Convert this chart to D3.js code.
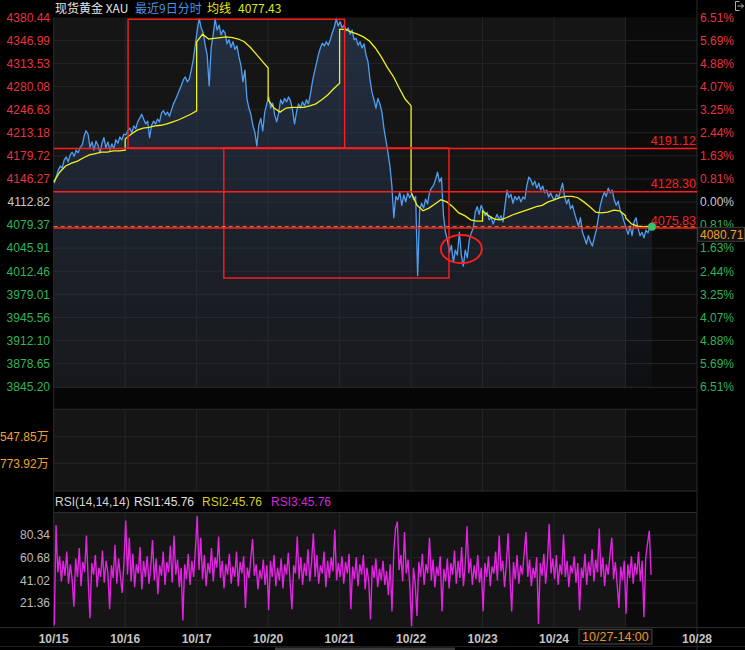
<!DOCTYPE html>
<html><head><meta charset="utf-8">
<script src="https://cdn.jsdelivr.net/npm/d3@7/dist/d3.min.js"></script>
<style>
html,body{margin:0;padding:0;background:#000;overflow:hidden;}
svg{display:block;}
</style></head><body>
<svg id="chart" width="745" height="650"></svg>
<script>
// ---------------- data ----------------
const dayLabels = ["10/15","10/16","10/17","10/20","10/21","10/22","10/23","10/24","10/27","10/28"];
const priceTicks = [4380.44,4346.99,4313.53,4280.08,4246.63,4213.18,4179.72,4146.27,4112.82,4079.37,4045.91,4012.46,3979.01,3945.56,3912.10,3878.65,3845.20];
const pctTicks = ["6.51%","5.69%","4.88%","4.07%","3.25%","2.44%","1.63%","0.81%","0.00%","0.81%","1.63%","2.44%","3.25%","4.07%","4.88%","5.69%","6.51%"];
const basePrice = 4112.82;
const volTicks = [547.85, 773.92];
const volTickLabels = ["547.85万","773.92万"];
const rsiTicks = [80.34, 60.68, 41.02, 21.36];
const PRICE_PER_DAY = 36, AVG_PER_DAY = 13, RSI_PER_DAY = 40;

// minute price, 36 samples per day (last day partial)
const price = [
4140,4150,4159,4165,4162,4174,4178,4171,4181,4185,4179,4188,4184,4192,4195,4208,4216,4211,4192,4200,4188,4201,4195,4184,4198,4206,4191,4200,4188,4197,4190,4203,4198,4207,4203,4211,
4210,4216,4220,4213,4223,4219,4229,4234,4240,4233,4226,4230,4206,4224,4230,4226,4233,4229,4242,4245,4239,4243,4237,4246,4255,4261,4268,4275,4282,4290,4294,4287,4291,4304,4319,4340,
4362,4378,4365,4358,4340,4326,4281,4336,4355,4378,4362,4369,4355,4362,4358,4342,4348,4337,4345,4334,4339,4323,4311,4287,4304,4263,4249,4240,4224,4214,4194,4224,4234,4216,4243,4255,
4265,4249,4256,4239,4229,4242,4261,4255,4263,4258,4265,4259,4246,4226,4243,4255,4249,4258,4252,4261,4255,4269,4287,4301,4313,4326,4336,4343,4339,4345,4340,4348,4358,4366,4378,4368,
4374,4365,4369,4361,4365,4356,4362,4348,4350,4340,4345,4336,4342,4326,4316,4290,4272,4261,4249,4263,4255,4243,4220,4203,4185,4166,4137,4090,4121,4116,4127,4108,4123,4113,4126,4119,
4124,4116,4121,4006,4101,4111,4104,4117,4110,4127,4133,4137,4145,4156,4142,4148,4094,4069,4058,4040,4050,4026,4043,4036,4069,4036,4020,4043,4032,4058,4068,4075,4098,4106,4095,4108,
4101,4093,4098,4087,4091,4081,4088,4095,4087,4093,4084,4108,4130,4119,4124,4111,4121,4116,4121,4113,4120,4117,4137,4149,4145,4137,4143,4133,4140,4130,4136,4126,4130,4120,4126,4119,
4116,4124,4119,4130,4140,4121,4110,4117,4103,4108,4097,4087,4078,4090,4069,4061,4052,4064,4055,4049,4061,4072,4090,4108,4119,4127,4121,4133,4126,4130,4116,4108,4114,4101,4094,4084,
4075,4066,4078,4064,4084,4090,4075,4064,4069,4061,4072,4068,4077,4076.9
];

// daily average line (均线), 13 samples per day
const avgLine = [
4142,4156,4165,4169,4172,4177,4181,4183,4185,4185,4187,4187,4188,
4204,4211,4217,4220,4221,4223,4224,4226,4229,4232,4236,4240,4245,
4345,4356,4349,4350,4351,4352,4351,4349,4345,4337,4327,4317,4307,
4261,4249,4243,4249,4250,4250,4250,4252,4255,4261,4268,4277,4285,
4363,4363,4359,4356,4352,4346,4336,4323,4308,4295,4278,4262,4252,
4127,4108,4100,4104,4110,4116,4113,4106,4097,4093,4087,4085,4085,
4100,4093,4088,4087,4090,4094,4097,4100,4103,4106,4108,4113,4116,
4116,4119,4121,4121,4119,4113,4106,4098,4097,4098,4101,4100,4093,
4090,4081,4078,4077,4077.43
];

// RSI(14), 40 samples per day
const rsi = [
2,89,48,62,40,58,45,66,38,55,42,18,60,44,69,36,57,48,80,41,8,56,46,63,35,52,44,67,39,58,48,16,54,43,72,38,60,45,30,56,
93,46,78,40,64,35,55,47,70,33,58,44,62,38,52,76,41,60,29,54,45,66,37,57,48,71,39,80,46,59,35,52,6,55,42,64,37,58,44,68,
97,50,78,42,63,36,56,47,69,40,61,52,79,43,58,34,55,46,64,38,53,44,66,36,57,47,62,17,52,43,60,77,45,55,33,50,42,59,37,54,
15,58,44,63,36,52,41,60,34,55,46,65,39,16,54,47,79,42,61,37,56,45,68,40,57,82,44,63,38,54,47,66,35,58,43,61,49,85,41,56,
44,62,38,57,47,64,16,53,42,61,36,55,46,63,33,52,40,7,54,43,60,35,51,41,58,37,49,28,55,14,66,86,92,50,63,40,83,47,59,36,
1,52,38,10,57,44,64,37,55,47,78,41,59,35,53,45,62,14,51,40,60,34,56,46,67,38,58,43,70,36,55,88,47,60,37,54,42,63,39,52,
14,56,44,62,36,53,47,66,41,80,49,58,35,55,82,45,14,57,42,63,38,54,46,65,83,44,59,36,52,43,61,3,56,45,64,38,58,90,47,60,
42,63,37,55,46,81,44,58,35,54,47,62,39,56,15,52,43,64,37,57,45,68,40,59,48,86,44,61,36,55,46,63,78,42,57,38,17,53,41,58,
12,55,43,62,38,56,46,66,40,58,9,60,73,84,45.76
];

// drawn annotations (day-position / price)
const levels = [4191.12, 4128.30, 4075.83];
const boxes = [
  {d0: 1.04, d1: 4.07, p0: 4191.12, p1: 4377.6},
  {d0: 2.38, d1: 5.53, p0: 4002.7, p1: 4191.12}
];
const ring = {d: 5.703, p: 4044.7, rd: 0.287, rp: 20.3};
const lastPrice = 4076.9;
const cursorPriceLabel = "4080.71";
const cursorTimeLabel = "10/27-14:00";
const headerParts = [
  {t: "现货黄金 XAU", c: "#e6e6e6", x: 55},
  {t: "最近9日分时", c: "#4a94e6", x: 135},
  {t: "均线", c: "#e8e81c", x: 207},
  {t: "4077.43", c: "#d8e81c", x: 238}
];
const rsiHeader = [
  {t: "RSI(14,14,14)", c: "#d4d4d4", x: 55},
  {t: "RSI1:45.76", c: "#e0e0e0", x: 134},
  {t: "RSI2:45.76", c: "#d8cc22", x: 202},
  {t: "RSI3:45.76", c: "#d826d8", x: 271}
];

// ---------------- layout ----------------
const svg = d3.select("#chart");
const FONT = "'Liberation Sans', Arial, sans-serif";
const CJK = "'Noto Sans CJK SC', 'Noto Sans', sans-serif";
const X0 = 53.7, X1 = 697;
const MAIN = [17.3, 386.7], BAND = [387.3, 409.3], VOL = [409.3, 491], RSIP = [512.5, 627.5];

const x = d3.scaleLinear().domain([0, 9]).range([X0, X1]);
const yP = d3.scaleLinear().domain([3845.20, 4380.44]).range([MAIN[1], MAIN[0]]);
const yV = d3.scaleLinear().domain([547.85, 773.92]).range([436.7, 463.3]);
const yR = d3.scaleLinear().domain([0, 100]).range([RSIP[1], RSIP[0]]);
const XD = x(8);

svg.append("rect").attr("width", 745).attr("height", 650).attr("fill", "#000");

function panelBg(r) {
  svg.append("rect").attr("x", X0).attr("y", r[0]).attr("width", XD - X0).attr("height", r[1] - r[0]).attr("fill", "#151515");
  svg.append("rect").attr("x", XD).attr("y", r[0]).attr("width", X1 - XD).attr("height", r[1] - r[0]).attr("fill", "#0b0b0b");
  for (let d = 1; d <= 8; d++) {
    svg.append("line").attr("x1", x(d)).attr("x2", x(d)).attr("y1", r[0]).attr("y2", r[1])
      .attr("stroke", "#252525").attr("stroke-width", 1);
  }
}
panelBg([MAIN[0], 387.3]);
panelBg(VOL);
panelBg(RSIP);
svg.append("rect").attr("x", X0).attr("y", BAND[0]).attr("width", X1 - X0).attr("height", BAND[1] - BAND[0]).attr("fill", "#060606");

// horizontal grids
priceTicks.slice(1, -1).forEach(t => {
  svg.append("line").attr("x1", X0).attr("x2", X1).attr("y1", yP(t)).attr("y2", yP(t)).attr("stroke", "#252525");
});
volTicks.forEach(t => {
  svg.append("line").attr("x1", X0).attr("x2", X1).attr("y1", yV(t)).attr("y2", yV(t)).attr("stroke", "#252525");
});
rsiTicks.forEach(t => {
  svg.append("line").attr("x1", X0).attr("x2", X1).attr("y1", yR(t)).attr("y2", yR(t)).attr("stroke", "#252525");
});

// frames
const frameC = "#2c2c2c";
[387.3, 409.3, 491, 512.5].forEach(y => svg.append("line").attr("x1", X0).attr("x2", X1).attr("y1", y).attr("y2", y).attr("stroke", frameC));
svg.append("line").attr("x1", 0).attr("x2", 745).attr("y1", 627.5).attr("y2", 627.5).attr("stroke", frameC);
svg.append("line").attr("x1", 0).attr("x2", 745).attr("y1", 646.5).attr("y2", 646.5).attr("stroke", "#1e1e1e");
svg.append("line").attr("x1", X0).attr("x2", X0).attr("y1", MAIN[0]).attr("y2", 627.5).attr("stroke", frameC);
svg.append("line").attr("x1", X1).attr("x2", X1).attr("y1", 0).attr("y2", 650).attr("stroke", frameC);

// ---------------- main price ----------------
const defs = svg.append("defs");
const grad = defs.append("linearGradient").attr("id", "areaGrad").attr("gradientUnits", "userSpaceOnUse")
  .attr("x1", 0).attr("x2", 0).attr("y1", MAIN[0]).attr("y2", MAIN[1]);
grad.append("stop").attr("offset", "0%").attr("stop-color", "#2c4060").attr("stop-opacity", 0.6);
grad.append("stop").attr("offset", "100%").attr("stop-color", "#2c4060").attr("stop-opacity", 0.08);

const pPos = (k) => Math.floor(k / PRICE_PER_DAY) + ((k % PRICE_PER_DAY) + 0.3) / PRICE_PER_DAY;
const aPos = (k) => Math.floor(k / AVG_PER_DAY) + (k % AVG_PER_DAY) / (AVG_PER_DAY - 1);
const rPos = (k) => Math.floor(k / RSI_PER_DAY) + ((k % RSI_PER_DAY) + 0.3) / RSI_PER_DAY;

svg.append("path").datum(price)
  .attr("d", d3.area().x((d, i) => x(pPos(i))).y0(MAIN[1]).y1(d => yP(d)))
  .attr("fill", "url(#areaGrad)");

svg.append("path").datum(price)
  .attr("d", d3.line().x((d, i) => x(pPos(i))).y(d => yP(d)))
  .attr("fill", "none").attr("stroke", "#4f9ff2").attr("stroke-width", 1.3).attr("stroke-linejoin", "round");

svg.append("path").datum(avgLine)
  .attr("d", d3.line().x((d, i) => x(aPos(i))).y(d => yP(d)))
  .attr("fill", "none").attr("stroke", "#f0f01c").attr("stroke-width", 1.3);

// annotations
const RED = "#ff1e1e";
boxes.forEach(b => {
  svg.append("rect").attr("x", x(b.d0)).attr("y", yP(b.p1)).attr("width", x(b.d1) - x(b.d0)).attr("height", yP(b.p0) - yP(b.p1))
    .attr("fill", "none").attr("stroke", RED).attr("stroke-width", 1.4);
});
svg.append("ellipse").attr("cx", x(ring.d)).attr("cy", yP(ring.p))
  .attr("rx", x(ring.d + ring.rd) - x(ring.d)).attr("ry", yP(ring.p - ring.rp) - yP(ring.p))
  .attr("fill", "none").attr("stroke", RED).attr("stroke-width", 1.8);

svg.append("line").attr("x1", X0).attr("x2", X1).attr("y1", yP(lastPrice)).attr("y2", yP(lastPrice))
  .attr("stroke", "#ff9a2a").attr("stroke-width", 1).attr("stroke-dasharray", "4,3");
levels.forEach(l => {
  svg.append("line").attr("x1", X0).attr("x2", X1).attr("y1", yP(l) + 0.5).attr("y2", yP(l) + 0.5)
    .attr("stroke", RED).attr("stroke-width", 1.4);
  svg.append("text").attr("x", 696).attr("y", yP(l) - 3).attr("text-anchor", "end")
    .attr("font-family", FONT).attr("font-size", 12.5).attr("fill", RED).text(l.toFixed(2));
});

const lastX = x(pPos(price.length - 1));
svg.append("circle").attr("cx", lastX).attr("cy", yP(price[price.length - 1])).attr("r", 4)
  .attr("fill", "#35c46c");

// price axes
priceTicks.forEach((t, i) => {
  const c = t > basePrice + 0.001 ? "#e8333f" : (t < basePrice - 0.001 ? "#2fb45a" : "#c8c8c8");
  svg.append("text").attr("x", 50).attr("y", yP(t)).attr("dy", "0.36em").attr("text-anchor", "end")
    .attr("font-family", FONT).attr("font-size", 12).attr("fill", c).text(t.toFixed(2));
  svg.append("text").attr("x", 700).attr("y", yP(t)).attr("dy", "0.36em").attr("text-anchor", "start")
    .attr("font-family", FONT).attr("font-size", 12).attr("fill", c).text(pctTicks[i]);
});

// cursor price box on right
svg.append("rect").attr("x", 697.5).attr("y", yP(lastPrice) + 0.5).attr("width", 47).attr("height", 14)
  .attr("fill", "#111").attr("stroke", "#3c3c3c");
svg.append("text").attr("x", 700).attr("y", yP(lastPrice) + 12).attr("font-family", FONT).attr("font-size", 12)
  .attr("fill", "#f0a030").text(cursorPriceLabel);

// header
headerParts.forEach(h => {
  svg.append("text").attr("x", h.x).attr("y", 12.5).attr("font-family", CJK).attr("font-size", 12)
    .attr("fill", h.c).text(h.t);
});

// ---------------- volume panel labels ----------------
volTicks.forEach((t, i) => {
  svg.append("text").attr("x", 0).attr("y", yV(t)).attr("dy", "0.36em")
    .attr("font-family", FONT).attr("font-size", 12).attr("fill", "#f0a030")
    .text(volTickLabels[i].replace("万", "")).append("tspan").attr("font-family", CJK).text("万");
});

// ---------------- RSI ----------------
rsiHeader.forEach(h => {
  svg.append("text").attr("x", h.x).attr("y", 506).attr("font-family", FONT).attr("font-size", 12)
    .attr("fill", h.c).text(h.t);
});
rsiTicks.forEach(t => {
  svg.append("text").attr("x", 50).attr("y", yR(t)).attr("dy", "0.36em").attr("text-anchor", "end")
    .attr("font-family", FONT).attr("font-size", 12).attr("fill", "#bcbcbc").text(t.toFixed(2));
});
svg.append("path").datum(rsi)
  .attr("d", d3.line().x((d, i) => x(rPos(i))).y(d => yR(d)))
  .attr("fill", "none").attr("stroke", "#e024e0").attr("stroke-width", 1.4);

// ---------------- date axis ----------------
dayLabels.forEach((d, i) => {
  if (i === 8) return; // hidden under the cursor time label
  svg.append("text").attr("x", x(i)).attr("y", 642.5).attr("text-anchor", "middle")
    .attr("font-family", FONT).attr("font-size", 12).attr("font-weight", "bold").attr("fill", "#c4c4c4").text(d);
});
// cursor time box (right edge at last data point)
svg.append("rect").attr("x", lastX - 73).attr("y", 629.3).attr("width", 73).attr("height", 14.7)
  .attr("fill", "#0a0a0a").attr("stroke", "#4a4a4a");
svg.append("text").attr("x", lastX - 36.5).attr("y", 641).attr("text-anchor", "middle")
  .attr("font-family", FONT).attr("font-size", 12.5).attr("fill", "#e8952c").text(cursorTimeLabel);

// scrollbar
svg.append("rect").attr("x", 275).attr("y", 647.5).attr("width", 180).attr("height", 2.5).attr("fill", "#3a3a3a");

// top-right icon
const ic = svg.append("g").attr("stroke", "#b0b0b0").attr("fill", "none").attr("stroke-width", 1);
ic.append("path").attr("d", "M735.5,1.5 v9 h4 M735.5,1.5 h4");
ic.append("path").attr("d", "M737.5,6 h6 M741,3.5 l2.5,2.5 l-2.5,2.5");
</script>
</body></html>
